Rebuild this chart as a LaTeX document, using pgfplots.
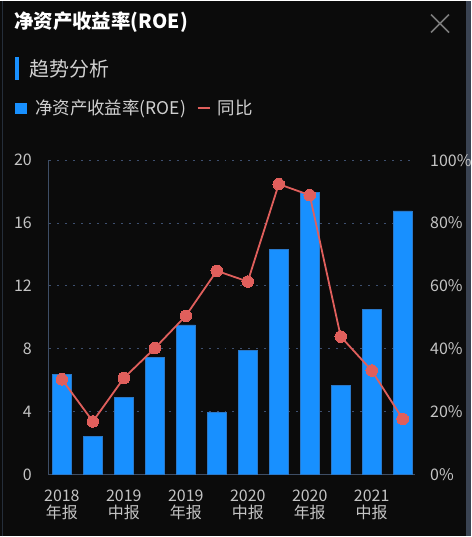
\documentclass[border=0pt]{standalone}
\usepackage{pgfplots}
\pgfplotsset{compat=1.18}
\usepackage{fontspec}
\setmainfont{Noto Sans CJK SC}
\definecolor{bg}{HTML}{0B0B0B}
\definecolor{barblue}{HTML}{1890FF}
\definecolor{baredge}{HTML}{2A78C8}
\definecolor{linered}{HTML}{E05F5C}
\definecolor{gridc}{HTML}{3E5070}
\definecolor{axisc}{HTML}{3E4E66}
\definecolor{tickc}{HTML}{C4C4C4}
\definecolor{borderc}{HTML}{3A4352}
\definecolor{leftb}{HTML}{252E3A}
\definecolor{closec}{HTML}{7A7A7A}
\definecolor{subc}{HTML}{D0D0D0}
\pgfplotstableread{
x roe
0 6.39
1 2.41
2 4.91
3 7.47
4 9.52
5 3.96
6 7.92
7 14.33
8 17.95
9 5.65
10 10.52
11 16.78
}\roedata
\pgfplotstableread{
x yoy
0 30.3
1 16.9
2 30.7
3 40.2
4 50.5
5 64.8
6 61.4
7 92.4
8 88.9
9 43.9
10 33.1
11 17.7
}\yoydata
\begin{document}
\begin{tikzpicture}
\fill[bg] (0pt,0pt) rectangle (472pt,537pt);
\fill[borderc] (467pt,0pt) rectangle (472pt,537pt);
\draw[leftb,line width=1.2pt] (2.5pt,0pt) -- (2.5pt,537pt);
% header
\node[anchor=west,inner sep=0pt,text=white,font=\fontsize{19.5}{22}\selectfont\bfseries] at (14pt,515pt) {净资产收益率(ROE)};
\draw[closec,line width=1.6pt] (432pt,523pt) -- (450pt,505pt) (432pt,505pt) -- (450pt,523pt);
\fill[barblue] (15pt,457pt) rectangle (19pt,480pt);
\node[anchor=west,inner sep=0pt,text=subc,font=\fontsize{20}{22}\selectfont] at (29pt,468.5pt) {趋势分析};
\fill[barblue] (15pt,423pt) rectangle (27pt,434pt);
\node[anchor=west,inner sep=0pt,text=subc,font=\fontsize{17.5}{20}\selectfont] at (35pt,429pt) {净资产收益率(ROE)};
\draw[linered,line width=2pt] (198pt,429pt) -- (210pt,429pt);
\node[anchor=west,inner sep=0pt,text=subc,font=\fontsize{17.5}{20}\selectfont] at (218pt,429pt) {同比};
% left axis with bars
\begin{axis}[
  at={(49pt,62pt)}, anchor=south west,
  scale only axis, width=367pt, height=315pt,
  xmin=-0.419, xmax=11.40,
  ymin=0, ymax=20,
  ytick={0,4,8,12,16,20},
  xtick={0,2,4,6,8,10},
  xticklabels={{2018\\年报},{2019\\中报},{2019\\年报},{2020\\中报},{2020\\年报},{2021\\中报}},
  xticklabel style={align=center,text=tickc,font=\fontsize{16}{17.5}\selectfont,inner sep=0pt},
  yticklabel style={text=tickc,font=\fontsize{16}{17}\selectfont,inner sep=0pt},
  /pgf/number format/assume math mode=true,
  axis x line*=bottom, axis y line*=left,
  axis line style={axisc,line width=1pt,-},
  major tick length=0pt,
  xtick style={draw=none}, ytick style={draw=none},
  ymajorgrids, major grid style={gridc,dash pattern=on 2pt off 6pt,line width=1pt},
  yticklabel shift=17pt,
  xticklabel shift=15pt,
]
\addplot[ybar, bar width=19pt, fill=barblue, draw=baredge, line width=0.6pt] table[x=x,y=roe]{\roedata};
\end{axis}
% right axis with line
\begin{axis}[
  at={(49pt,62pt)}, anchor=south west,
  scale only axis, width=367pt, height=315pt,
  xmin=-0.419, xmax=11.40,
  ymin=0, ymax=100,
  ytick={0,20,40,60,80,100},
  yticklabel={\pgfmathprintnumber{\tick}\%},
  yticklabel style={text=tickc,font=\fontsize{16}{17}\selectfont,inner sep=0pt,anchor=west},
  /pgf/number format/assume math mode=true,
  axis x line=none, axis y line*=right,
  y axis line style={draw=none},
  xtick=\empty,
  major tick length=0pt,
  ytick style={draw=none},
  yticklabel shift=15pt,
  clip=false,
]
\addplot[linered, line width=1.8pt, mark=*, mark size=5.8pt, mark options={fill=linered,draw=linered,line width=0pt}] table[x=x,y=yoy]{\yoydata};
\end{axis}
\end{tikzpicture}
\end{document}
